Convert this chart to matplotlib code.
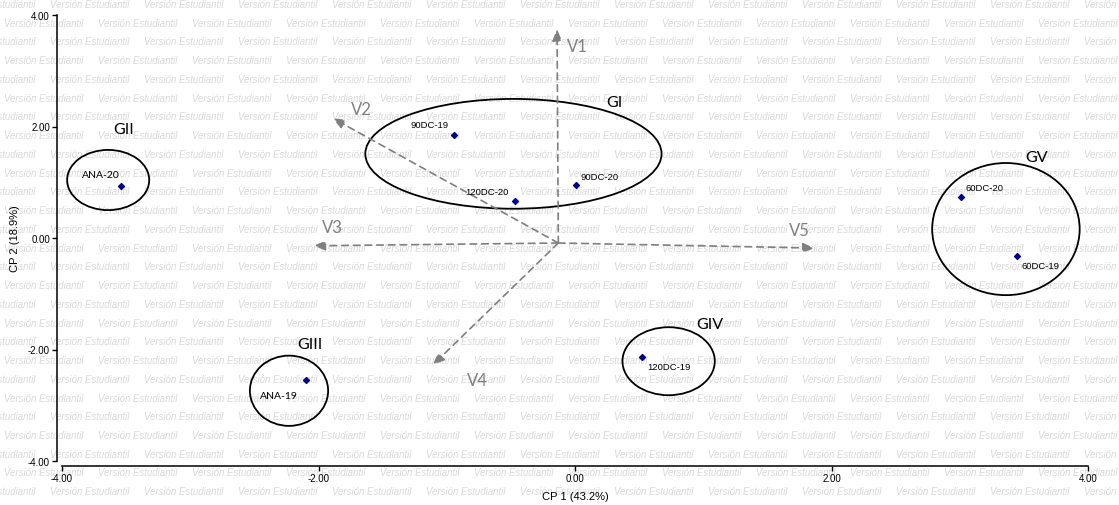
import matplotlib
matplotlib.use("Agg")
import matplotlib.pyplot as plt
from matplotlib.patches import Ellipse

# ---- data -------------------------------------------------------------
samples = ["ANA-20", "90DC-19", "120DC-20", "90DC-20",
           "60DC-20", "60DC-19", "120DC-19", "ANA-19"]
cp1 = [-3.54, -0.94, -0.47, 0.01, 3.01, 3.45, 0.52, -2.10]
cp2 = [0.93, 1.85, 0.66, 0.95, 0.74, -0.32, -2.13, -2.55]

variables = ["V1", "V2", "V3", "V4", "V5"]
vec_origin = (-0.13, -0.09)
vec_x = [-0.14, -1.89, -2.04, -1.11, 1.87]
vec_y = [3.75, 2.15, -0.14, -2.28, -0.18]

groups = ["GI", "GII", "GIII", "GIV", "GV"]
grp_cx = [-0.48, -3.64, -2.23, 0.73, 3.36]
grp_cy = [1.51, 1.04, -2.74, -2.21, 0.16]
grp_w = [2.31, 0.64, 0.61, 0.72, 1.15]
grp_h = [1.97, 1.08, 1.26, 1.22, 2.37]
grp_lx = [0.31, -3.52, -2.07, 1.05, 3.60]
grp_ly = [2.44, 1.96, -1.90, -1.54, 1.45]

ticks = [-4.0, -2.0, 0.0, 2.0, 4.0]
tick_labels = ["-4.00", "-2.00", "0.00", "2.00", "4.00"]
xlabel = "CP 1 (43.2%)"
ylabel = "CP 2 (18.9%)"
watermark = "Versión Estudiantil"

# ---- layout / style ---------------------------------------------------
W, H = 1119, 506
fig = plt.figure(figsize=(W / 100, H / 100), dpi=100, facecolor="white")
ax = fig.add_axes([62 / W, 1 - 462 / H, (1088 - 62) / W, (462 - 16) / H])
ax.set_facecolor("none")

# tiled watermark behind the plot
row_step = 18.74
col_step = 94.0
for r in range(28):
    y = 5 + r * row_step
    x0 = 50 if r % 2 == 0 else 4
    x = x0 - col_step
    while x < W:
        fig.text(x / W, 1 - y / H, watermark, fontsize=6.9, style="italic",
                 family="Liberation Sans", color="#d9d9d9",
                 ha="left", va="center", zorder=-5)
        x += col_step

ax.set_xlim(-4, 4)
ax.set_ylim(-4, 4)

for side in ("top", "right"):
    ax.spines[side].set_visible(False)
ax.spines["left"].set_position(("outward", 3.6))
ax.spines["bottom"].set_position(("outward", 3.6))
ax.spines["left"].set_bounds(-4, 4)
ax.spines["bottom"].set_bounds(-4, 4)
for s in ("left", "bottom"):
    ax.spines[s].set_linewidth(1.1)
    ax.spines[s].set_color("black")

ax.set_xticks(ticks)
ax.set_xticklabels(tick_labels)
ax.set_yticks(ticks)
ax.set_yticklabels(tick_labels)
ax.tick_params(axis="both", length=3.5, width=1.0, labelsize=7,
               pad=1.5, colors="black")
for lab in ax.get_xticklabels() + ax.get_yticklabels():
    lab.set_family("Liberation Sans")

ax.set_xlabel(xlabel, fontsize=8, family="Liberation Sans", labelpad=6)
ax.set_ylabel(ylabel, fontsize=8, family="Liberation Sans", labelpad=6)

# biplot vectors
ox, oy = vec_origin
vec_label_off = [(20, -17), (29, 9), (19, 19), (45, -15), (-15, 18)]
for name, vx, vy, (dx, dy) in zip(variables, vec_x, vec_y, vec_label_off):
    ax.annotate("", xy=(vx, vy), xytext=(ox, oy),
                arrowprops=dict(arrowstyle="-|>,head_length=0.7,head_width=0.28",
                                color="#7f7f7f", lw=1.2,
                                linestyle=(0, (4, 3)),
                                shrinkA=0, shrinkB=0))
    ax.annotate(name, xy=(vx, vy), xytext=(dx * 0.72, dy * 0.72),
                textcoords="offset points", fontsize=12, family="Lato",
                color="#808080", ha="center", va="center")

# group ellipses
for g, cx, cy, w, h, lx, ly in zip(groups, grp_cx, grp_cy, grp_w, grp_h,
                                   grp_lx, grp_ly):
    ax.add_patch(Ellipse((cx, cy), w, h, fill=False, edgecolor="black",
                         lw=1.3))
    ax.text(lx, ly, g, fontsize=11.5, family="Lato", color="black",
            ha="center", va="center")

# observations
ax.scatter(cp1, cp2, marker="D", s=9, color="#00008b", zorder=5)
point_label_off = {
    "ANA-20": (-20, 12), "90DC-19": (-25, 10), "120DC-20": (-28, 10),
    "90DC-20": (23, 9), "60DC-20": (23, 9), "60DC-19": (23, -10),
    "120DC-19": (27, -10), "ANA-19": (-27, -15),
}
for name, x, y in zip(samples, cp1, cp2):
    dx, dy = point_label_off[name]
    is_ana = name.startswith("ANA")
    ax.annotate(name, xy=(x, y), xytext=(dx * 0.72, dy * 0.72),
                textcoords="offset points",
                fontsize=7.5 if is_ana else 6.8,
                family="Lato" if is_ana else "Liberation Sans",
                color="black", ha="center", va="center")

fig.savefig("out.png", dpi=100, facecolor="white")
